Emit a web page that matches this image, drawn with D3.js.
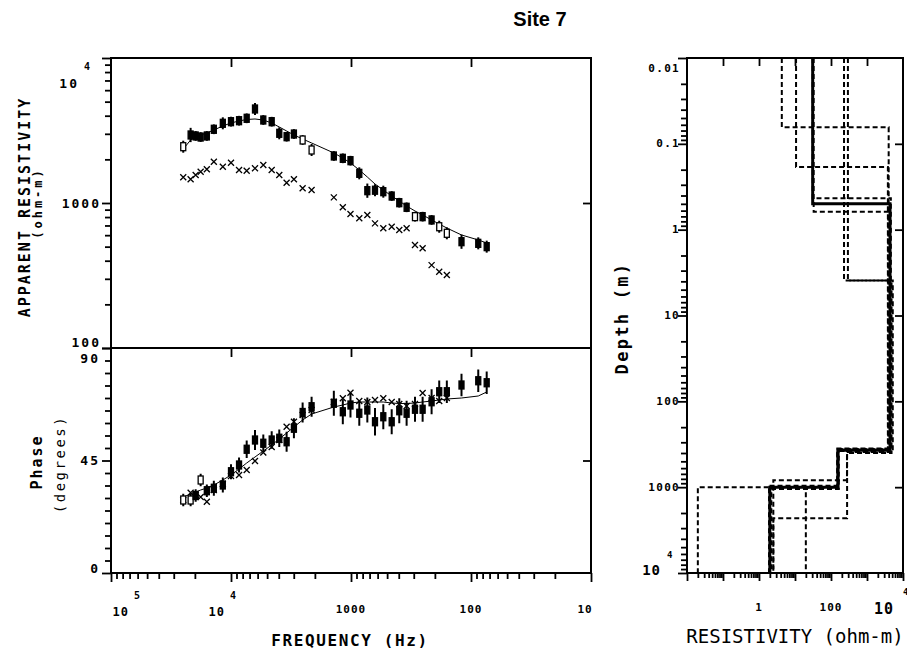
<!DOCTYPE html>
<html>
<head>
<meta charset="utf-8">
<script src="https://cdn.jsdelivr.net/npm/d3@7"></script>
<style>
body { margin: 0; background: #fff; }
svg text { font-family: "DejaVu Sans Mono", monospace; font-weight: bold; fill: #000; }
</style>
</head>
<body>
<script>
var width = 907;
var height = 648;

// sounding frequencies (Hz)
var freq = [25000, 21700, 19700, 17900, 15900, 13900, 11700, 10000, 8570, 7400,
            6310, 5380, 4580, 3960, 3440, 2990, 2530, 2130, 1390, 1170,
            1010, 853, 731, 631, 538, 458, 396, 344, 293, 253,
            213, 184, 159, 120, 87, 74];

// apparent resistivity (ohm-m), xy with error %, yx as crosses
var rhoXY = [2445, 2945, 2900, 2850, 2900, 3224, 3545, 3637, 3695, 3838,
             4450, 3736, 3637, 3025, 2866, 2990, 2720, 2320, 2110, 2033,
             1958, 1602, 1216, 1225, 1197, 1117, 1005, 934, 805, 805,
             764, 686, 618, 541, 527, 500];
var rhoErr = [10, 12, 8, 8, 8, 8, 10, 8, 8, 8, 10, 8, 8, 10, 8, 8, 8, 10, 8, 8,
              8, 10, 12, 10, 10, 8, 8, 8, 8, 8, 8, 10, 10, 12, 10, 10];
var rhoYX = [1504, 1457, 1561, 1644, 1708, 1926, 1779, 1896, 1690, 1670,
             1735, 1829, 1690, 1561, 1380, 1457, 1263, 1229, 1094, 934,
             840, 784, 827, 724, 669, 686, 651, 669, 513, 487,
             373, 336, 319];
var rhoModel = [2355, 2720, 2852, 2945, 3040, 3186, 3397, 3563, 3679, 3766,
                3796, 3736, 3563, 3343, 3138, 2945, 2763, 2593, 2213, 2043,
                1888, 1690, 1511, 1352, 1229, 1117, 1032, 953, 881, 827,
                764, 716, 672, 602, 556, 530];
var rhoOpen = [0, 16, 17, 28, 31, 32];

// phase (degrees)
var phaseXY = [29.2, 29.2, 31.0, 37.2, 32.9, 33.9, 35.2, 40.5, 43.2, 49.5,
               53.2, 51.9, 53.2, 53.9, 52.5, 57.9, 64.2, 66.5, 67.9, 64.5,
               67.2, 63.9, 65.2, 60.5, 62.5, 60.5, 64.9, 63.9, 65.5, 65.5,
               68.5, 72.5, 72.5, 75.2, 76.9, 76.1];
var phaseErr = [2.5, 2.5, 2.5, 2.5, 2.5, 3, 3, 3, 3, 3.5, 4, 3.5, 3.5, 3.5, 4, 4, 4, 4,
                5, 5, 5, 5, 5, 5.5, 5, 5, 5, 5, 5, 5, 5, 4.5, 4.5, 4.5, 4.5, 4.5];
var phaseYX = [29.2, 32.1, 31.2, 30.4, 28.5, 33.2, 35.6, 38.8, 39.2, 41.2,
               44.8, 48.2, 50.4, 53.2, 58.5, 60.5, 63.2, 65.2, 68.4, 69.9,
               72.1, 68.8, 68.4, 69.2, 69.9, 68.4, 67.6, 66.8, 67.6, 72.0,
               70.0, 68.8, 70.0];
var phaseModel = [30.4, 31.6, 32.4, 33.2, 34, 35.2, 37.2, 39.2, 41.6, 44,
                  46.4, 48.8, 51.2, 53.6, 56, 58.4, 61.2, 63.6, 66.4, 67.2,
                  68, 68.4, 68.4, 68.4, 68.4, 68, 67.8, 67.8, 68, 68.4,
                  68.8, 69.2, 69.6, 70, 70.8, 72.4];
var phaseOpen = [0, 1, 3];

// layered models: resistivity (ohm-m) and layer bottom depths (m)
var bestRes = [31, 4360, 155, 2];
var bestDepth = [0.5, 370, 1000];
var equivRes = [[4.3, 4000, 160, 0.02],
                [10.7, 3800, 150, 20],
                [230, 4800, 280, 2.5],
                [295, 5200, 278, 2.5],
                [31, 4600, 165, 2.2],
                [33, 3900, 150, 1.9]];
var equivDepth = [[0.064, 380, 1000],
                  [0.186, 360, 1000],
                  [3.9, 400, 2300],
                  [3.9, 390, 830],
                  [0.43, 375, 1050],
                  [0.62, 355, 960]];

// tick labels
var freqLabels = [{v: 1e5, t: "10", sup: "5"}, {v: 1e4, t: "10", sup: "4"},
                  {v: 1000, t: "1000"}, {v: 100, t: "100"}, {v: 10, t: "10"}];
var rhoLabels = [{v: 1e4, t: "10", sup: "4"}, {v: 1000, t: "1000"}, {v: 100, t: "100"}];
var phaseLabels = [{v: 90, t: "90"}, {v: 45, t: "45"}, {v: 0, t: "0"}];
var depthLabels = [{v: 0.01, t: "0.01"}, {v: 0.1, t: "0.1"}, {v: 1, t: "1"}, {v: 10, t: "10"},
                   {v: 100, t: "100"}, {v: 1000, t: "1000"}, {v: 1e4, t: "10", sup: "4"}];
var resLabels = [{v: 1, t: "1"}, {v: 100, t: "100"}, {v: 1e4, t: "10", sup: "4"}];

var L = 111, R = 591, T = 58, M = 348, B = 573;
var PL = 687, PR = 903;

var svg = d3.select("body").append("svg")
    .attr("width", width)
    .attr("height", height);

var xF = d3.scaleLog().domain([1e5, 10]).range([L, R]);
var yR = d3.scaleLog().domain([100, 1e4]).range([M, T]);
var yP = d3.scaleLinear().domain([0, 90]).range([B, M]);
var xRes = d3.scaleLog().domain([0.01, 1e4]).range([PL, PR]);
var yD = d3.scaleLog().domain([0.01, 1e4]).range([T, B]);

function isMajor(v) {
    var l = Math.log10(v);
    return Math.abs(l - Math.round(l)) < 1e-6;
}

function ticks(axis, x, y, values, size) {
    var g = svg.append("g")
        .attr("transform", "translate(" + x + "," + y + ")")
        .call(axis.tickValues(values).tickSize(size).tickFormat(""));
    g.select(".domain").remove();
    g.selectAll("line").attr("stroke", "#000").attr("stroke-width", 1.8);
    return g;
}

// ---- left plot axes ----
var rhoAll = yR.ticks();
ticks(d3.axisLeft(yR), L, 0, rhoAll.filter(function(v) { return !isMajor(v); }), 6);
ticks(d3.axisLeft(yR), L, 0, rhoAll.filter(isMajor), 9);
ticks(d3.axisRight(yR), R, 0, [1000], -8);

var phAll = d3.range(0, 91, 5);
ticks(d3.axisLeft(yP), L, 0, phAll.filter(function(v) { return v % 45 != 0; }), 6);
ticks(d3.axisLeft(yP), L, 0, [0, 45, 90], 9);
ticks(d3.axisRight(yP), R, 0, [45], -8);

var fAll = xF.ticks();
ticks(d3.axisBottom(xF), 0, B, fAll.filter(function(v) { return !isMajor(v); }), 6);
ticks(d3.axisBottom(xF), 0, B, fAll.filter(isMajor), 9);
ticks(d3.axisTop(xF), 0, T, [1e4, 1000, 100], -9);
ticks(d3.axisTop(xF), 0, M, [1e4, 1000, 100], -9);

svg.append("rect")
    .attr("x", L).attr("y", T)
    .attr("width", R - L).attr("height", B - T)
    .attr("fill", "none").attr("stroke", "#000").attr("stroke-width", 2);
svg.append("line")
    .attr("x1", L).attr("x2", R).attr("y1", M).attr("y2", M)
    .attr("stroke", "#000").attr("stroke-width", 2);

// ---- right plot axes ----
var dAll = yD.ticks();
ticks(d3.axisLeft(yD), PL, 0, dAll.filter(function(v) { return !isMajor(v); }), 6);
ticks(d3.axisLeft(yD), PL, 0, dAll.filter(isMajor), 9);
ticks(d3.axisRight(yD), PR, 0, [0.1, 1, 10, 100, 1000], -8);
var rAll = xRes.ticks();
ticks(d3.axisBottom(xRes), 0, B, rAll.filter(function(v) { return !isMajor(v); }), 5);
ticks(d3.axisBottom(xRes), 0, B, rAll.filter(isMajor), 8);
ticks(d3.axisTop(xRes), 0, T, [0.1, 1, 10, 100, 1000], -8);

svg.append("rect")
    .attr("x", PL).attr("y", T)
    .attr("width", PR - PL).attr("height", B - T)
    .attr("fill", "none").attr("stroke", "#000").attr("stroke-width", 2);

// ---- resistivity data ----
var rhoLine = d3.line()
    .x(function(d, i) { return xF(freq[i]); })
    .y(function(d) { return yR(d); });
svg.append("path").attr("d", rhoLine(rhoModel))
    .attr("fill", "none").attr("stroke", "#000").attr("stroke-width", 1);

var cross = "M-3,-3L3,3M-3,3L3,-3";
svg.selectAll(".yxRho").data(rhoYX).enter().append("path")
    .attr("transform", function(d, i) { return "translate(" + xF(freq[i]) + "," + yR(d) + ")"; })
    .attr("d", cross).attr("stroke", "#000").attr("stroke-width", 1.3).attr("fill", "none");

svg.selectAll(".rhoBar").data(rhoXY).enter().append("line")
    .attr("x1", function(d, i) { return xF(freq[i]); })
    .attr("x2", function(d, i) { return xF(freq[i]); })
    .attr("y1", function(d, i) { return yR(d * (1 + rhoErr[i] / 100)); })
    .attr("y2", function(d, i) { return yR(d / (1 + rhoErr[i] / 100)); })
    .attr("stroke", "#000").attr("stroke-width", 2);
svg.selectAll(".rhoMark").data(rhoXY).enter().append("rect")
    .attr("x", function(d, i) { return xF(freq[i]) - 2.5; })
    .attr("y", function(d) { return yR(d) - 4; })
    .attr("width", 5).attr("height", 8)
    .attr("fill", function(d, i) { return rhoOpen.indexOf(i) >= 0 ? "#fff" : "#000"; })
    .attr("stroke", "#000").attr("stroke-width", 1.3);

// ---- phase data ----
var phLine = d3.line()
    .x(function(d, i) { return xF(freq[i]); })
    .y(function(d) { return yP(d); });
svg.append("path").attr("d", phLine(phaseModel))
    .attr("fill", "none").attr("stroke", "#000").attr("stroke-width", 1);

svg.selectAll(".yxPh").data(phaseYX).enter().append("path")
    .attr("transform", function(d, i) { return "translate(" + xF(freq[i]) + "," + yP(d) + ")"; })
    .attr("d", cross).attr("stroke", "#000").attr("stroke-width", 1.3).attr("fill", "none");

svg.selectAll(".phBar").data(phaseXY).enter().append("line")
    .attr("x1", function(d, i) { return xF(freq[i]); })
    .attr("x2", function(d, i) { return xF(freq[i]); })
    .attr("y1", function(d, i) { return yP(d + phaseErr[i]); })
    .attr("y2", function(d, i) { return yP(d - phaseErr[i]); })
    .attr("stroke", "#000").attr("stroke-width", 2);
svg.selectAll(".phMark").data(phaseXY).enter().append("rect")
    .attr("x", function(d, i) { return xF(freq[i]) - 2.5; })
    .attr("y", function(d) { return yP(d) - 4; })
    .attr("width", 5).attr("height", 8)
    .attr("fill", function(d, i) { return phaseOpen.indexOf(i) >= 0 ? "#fff" : "#000"; })
    .attr("stroke", "#000").attr("stroke-width", 1.3);

// ---- layered models ----
function stepPoints(res, depth) {
    var pts = [];
    var top = 0.01;
    for (var i = 0; i < res.length; i++) {
        var bot = i < depth.length ? depth[i] : 1e4;
        pts.push([res[i], top]);
        pts.push([res[i], bot]);
        top = bot;
    }
    return pts;
}
var modelLine = d3.line()
    .x(function(d) { return xRes(d[0]); })
    .y(function(d) { return yD(d[1]); });

for (var m = 0; m < equivRes.length; m++) {
    svg.append("path")
        .attr("d", modelLine(stepPoints(equivRes[m], equivDepth[m])))
        .attr("fill", "none").attr("stroke", "#000")
        .attr("stroke-width", 2).attr("stroke-dasharray", "5,3");
}
svg.append("path")
    .attr("d", modelLine(stepPoints(bestRes, bestDepth)))
    .attr("fill", "none").attr("stroke", "#000").attr("stroke-width", 3);

// ---- labels ----
function clamp(v, lo, hi) { return Math.max(lo, Math.min(hi, v)); }

rhoLabels.forEach(function(d) {
    var y = clamp(yR(d.v), T + 25, M - 6);
    svg.append("text").attr("x", d.sup ? 79 : 101).attr("y", y)
        .attr("text-anchor", "end").attr("dominant-baseline", "central")
        .style("font-size", "13px").style("letter-spacing", "2px").text(d.t);
    if (d.sup) {
        svg.append("text").attr("x", 84).attr("y", y - 17)
            .attr("dominant-baseline", "central")
            .style("font-size", "10px").text(d.sup);
    }
});
phaseLabels.forEach(function(d) {
    svg.append("text").attr("x", 100).attr("y", clamp(yP(d.v), M + 10, B - 5))
        .attr("text-anchor", "end").attr("dominant-baseline", "central")
        .style("font-size", "13px").style("letter-spacing", "2px").text(d.t);
});
freqLabels.forEach(function(d) {
    var x = xF(d.v);
    if (d.sup) {
        var xe = Math.max(x - 6, L + 18);
        svg.append("text").attr("x", xe).attr("y", 612)
            .attr("text-anchor", "end").attr("dominant-baseline", "central")
            .style("font-size", "12px").style("letter-spacing", "1px").text(d.t);
        svg.append("text").attr("x", xe + 5).attr("y", 595)
            .attr("dominant-baseline", "central")
            .style("font-size", "10px").text(d.sup);
    } else {
        svg.append("text").attr("x", Math.min(x, R - 6)).attr("y", 609)
            .attr("text-anchor", "middle").attr("dominant-baseline", "central")
            .style("font-size", "11px").style("letter-spacing", "1px").text(d.t);
    }
});
depthLabels.forEach(function(d) {
    var y = clamp(yD(d.v), T + 10, B - 3);
    if (d.sup) {
        svg.append("text").attr("x", 661).attr("y", y)
            .attr("text-anchor", "end").attr("dominant-baseline", "central")
            .style("font-size", "14px").style("letter-spacing", "1px").text(d.t);
        svg.append("text").attr("x", 667).attr("y", y - 15)
            .attr("dominant-baseline", "central")
            .style("font-size", "9px").text(d.sup);
    } else {
        svg.append("text").attr("x", 680).attr("y", y)
            .attr("text-anchor", "end").attr("dominant-baseline", "central")
            .style("font-size", "11px").style("letter-spacing", "1.3px").text(d.t);
    }
});
resLabels.forEach(function(d) {
    var x = xRes(d.v);
    if (d.sup) {
        svg.append("text").attr("x", x - 9).attr("y", 609)
            .attr("text-anchor", "end").attr("dominant-baseline", "central")
            .style("font-size", "15px").style("letter-spacing", "1px").text(d.t);
        svg.append("text").attr("x", x).attr("y", 592)
            .attr("dominant-baseline", "central")
            .style("font-size", "9px").text(d.sup);
    } else {
        svg.append("text").attr("x", x).attr("y", 607)
            .attr("text-anchor", "middle").attr("dominant-baseline", "central")
            .style("font-size", "11px").style("letter-spacing", "1px").text(d.t);
    }
});

// ---- titles ----
svg.append("text").attr("x", 540).attr("y", 26)
    .attr("text-anchor", "middle")
    .style("font-family", "'Liberation Sans', Arial, sans-serif")
    .style("font-size", "20px").text("Site 7");

function vtext(x, y, s, size, spacing, weight) {
    svg.append("text")
        .attr("transform", "translate(" + x + "," + y + ") rotate(-90)")
        .attr("text-anchor", "middle").attr("dominant-baseline", "central")
        .style("font-size", size + "px").style("letter-spacing", spacing + "px")
        .style("font-weight", weight).text(s);
}
vtext(25, 207, "APPARENT RESISTIVITY", 15, 2, "bold");
vtext(38, 203, "(ohm-m)", 12, 3, "bold");
vtext(37, 462, "Phase", 15, 2, "bold");
vtext(60, 464, "(degrees)", 14, 2.5, "normal");
vtext(622, 318, "Depth (m)", 17, 2.3, "bold");

svg.append("text").attr("x", 350).attr("y", 640)
    .attr("text-anchor", "middle").attr("dominant-baseline", "central")
    .style("font-size", "16px").style("letter-spacing", "1.6px").text("FREQUENCY (Hz)");
svg.append("text").attr("x", 795).attr("y", 636)
    .attr("text-anchor", "middle").attr("dominant-baseline", "central")
    .style("font-size", "19px").style("font-weight", "normal").text("RESISTIVITY (ohm-m)");
</script>
</body>
</html>
